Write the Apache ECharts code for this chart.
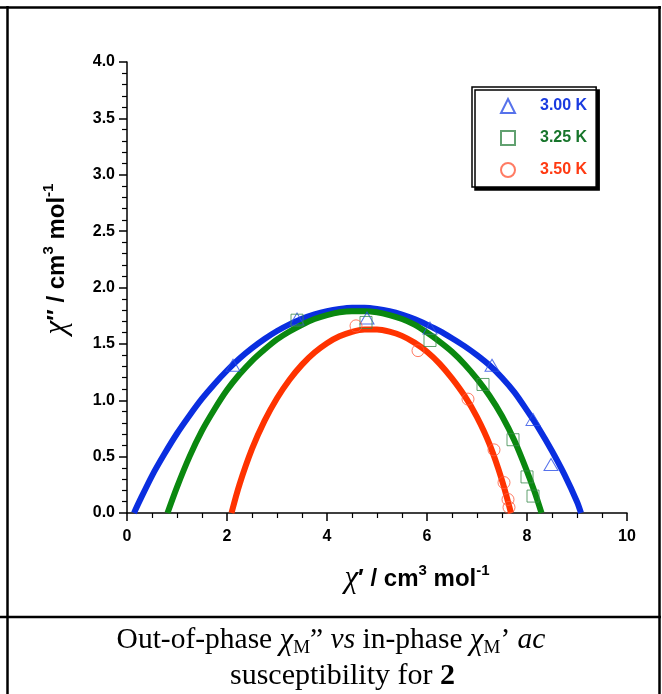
<!DOCTYPE html>
<html>
<head>
<meta charset="utf-8">
<script src="https://cdn.jsdelivr.net/npm/echarts@6/dist/echarts.min.js"></script>
<style>
html,body{margin:0;padding:0;background:#fff;}
#chart{width:662px;height:694px;}
</style>
</head>
<body>
<div id="chart"></div>
<script>
// ---- data ----
const seriesNames = ['3.00 K', '3.25 K', '3.50 K'];

// measured points
const blueX  = [2.12, 3.40, 4.80, 6.06, 7.30, 8.12, 8.48];
const blueY  = [1.31, 1.72, 1.73, 1.64, 1.31, 0.83, 0.43];
const greenX = [3.40, 4.78, 6.06, 7.12, 7.72, 8.00, 8.12];
const greenY = [1.71, 1.69, 1.53, 1.14, 0.65, 0.32, 0.15];
const redX   = [4.58, 5.82, 6.82, 7.34, 7.54, 7.62, 7.64];
const redY   = [1.66, 1.44, 1.01, 0.56, 0.27, 0.12, 0.05];

// fitted curves
const blueFitX  = [0.14, 0.25, 0.50, 0.75, 1.00, 1.25, 1.50, 1.75, 2.00, 2.25, 2.50, 2.75, 3.00, 3.25, 3.50, 3.75, 4.00, 4.25, 4.50, 4.75,
                   5.00, 5.25, 5.50, 5.75, 6.00, 6.25, 6.50, 6.75, 7.00, 7.25, 7.50, 7.75, 8.00, 8.25, 8.50, 8.75, 9.00, 9.08];
const blueFitY  = [0.00, 0.105, 0.33, 0.525, 0.705, 0.865, 1.014, 1.145, 1.264, 1.37, 1.462, 1.543, 1.614, 1.673, 1.723, 1.762, 1.791, 1.81, 1.82, 1.82,
                   1.81, 1.79, 1.76, 1.72, 1.67, 1.615, 1.55, 1.48, 1.40, 1.31, 1.20, 1.07, 0.91, 0.74, 0.55, 0.34, 0.10, 0.00];
const greenFitX = [0.81, 1.00, 1.25, 1.50, 1.75, 2.00, 2.25, 2.50, 2.75, 3.00, 3.25, 3.50, 3.75, 4.00, 4.25, 4.50, 4.75,
                   5.00, 5.25, 5.50, 5.75, 6.00, 6.25, 6.50, 6.75, 7.00, 7.25, 7.50, 7.75, 8.00, 8.15, 8.29];
const greenFitY = [0.00, 0.23, 0.50, 0.73, 0.92, 1.09, 1.23, 1.35, 1.45, 1.54, 1.61, 1.67, 1.72, 1.755, 1.78, 1.79, 1.79,
                   1.78, 1.755, 1.72, 1.67, 1.60, 1.52, 1.43, 1.32, 1.19, 1.04, 0.86, 0.64, 0.37, 0.19, 0.00];
const redFitX   = [2.09, 2.25, 2.50, 2.75, 3.00, 3.25, 3.50, 3.75, 4.00, 4.25, 4.50, 4.75, 5.00, 5.25, 5.50, 5.75,
                   6.00, 6.25, 6.50, 6.75, 7.00, 7.25, 7.50, 7.68];
const redFitY   = [0.00, 0.253, 0.568, 0.817, 1.018, 1.182, 1.316, 1.423, 1.506, 1.567, 1.607, 1.627, 1.628, 1.609, 1.571, 1.511,
                   1.43, 1.325, 1.194, 1.04, 0.85, 0.61, 0.29, 0.00];

// axis ticks
const xMin = 0, xMax = 10, xStep = 2;
const yMin = 0, yMax = 4, yStep = 0.5;

// ---- styles ----
const lineColors   = ['#0a2ee0', '#0a880f', '#ff3300'];
const markerColors = ['#2c4fe6', '#3a8a4c', '#ff5a3c'];
const legendColors = ['#1a3be0', '#17752b', '#ff3a12'];
const symbols = ['triangle', 'rect', 'circle'];
const symbolSizes = [[14, 12], 12, 12];

const zip = (xs, ys) => xs.map((x, i) => [x, ys[i]]);
const fits = [zip(blueFitX, blueFitY), zip(greenFitX, greenFitY), zip(redFitX, redFitY)];
const pts  = [zip(blueX, blueY), zip(greenX, greenY), zip(redX, redY)];

const series = [];
fits.forEach((d, i) => {
  series.push({
    name: seriesNames[i] + ' fit', type: 'line', data: d, smooth: 0.3,
    showSymbol: false, symbol: 'none', silent: true, z: 2,
    lineStyle: { color: lineColors[i], width: 6, cap: 'butt' }
  });
});
pts.forEach((d, i) => {
  series.push({
    name: seriesNames[i], type: 'scatter', data: d, z: 3,
    symbol: symbols[i], symbolSize: symbolSizes[i],
    itemStyle: { color: 'rgba(255,255,255,0)', borderColor: markerColors[i], borderWidth: 1 }
  });
});

const sans = 'Liberation Sans, Arial, sans-serif';
const serif = 'Liberation Serif, Times New Roman, serif';
const nameRich = {
  chi: { fontFamily: serif, fontStyle: 'italic', fontSize: 31, lineHeight: 32, color: '#000' },
  b:   { fontFamily: sans, fontWeight: 'bold', fontSize: 24, lineHeight: 32, color: '#000' },
  sup: { fontFamily: sans, fontWeight: 'bold', fontSize: 15, lineHeight: 15, verticalAlign: 'top', color: '#000' }
};

const chart = echarts.init(document.getElementById('chart'), null, { renderer: 'canvas' });
chart.setOption({
  backgroundColor: '#fff',
  animation: false,
  grid: { left: 127, top: 62, right: 35, bottom: 181, containLabel: false },
  xAxis: {
    type: 'value', min: xMin, max: xMax, interval: xStep,
    axisLine: { onZero: false, lineStyle: { color: '#000', width: 1.5 } },
    axisTick: { length: 8, lineStyle: { color: '#000', width: 1.5 } },
    minorTick: { show: true, splitNumber: 4, length: 5, lineStyle: { color: '#000', width: 1.2 } },
    splitLine: { show: false },
    axisLabel: { margin: 16, fontFamily: sans, fontWeight: 'bold', fontSize: 16, color: '#000' },
    name: '{chi|χ}{b|′ / cm}{sup|3}{b| mol}{sup|-1}',
    nameLocation: 'middle', nameGap: 50,
    nameTextStyle: { rich: nameRich, padding: [0, 0, 0, 80] }
  },
  yAxis: {
    type: 'value', min: yMin, max: yMax, interval: yStep,
    axisLine: { onZero: false, lineStyle: { color: '#000', width: 1.5 } },
    axisTick: { length: 8, lineStyle: { color: '#000', width: 1.5 } },
    minorTick: { show: true, splitNumber: 5, length: 5, lineStyle: { color: '#000', width: 1.2 } },
    splitLine: { show: false },
    axisLabel: { margin: 12, fontFamily: sans, fontWeight: 'bold', fontSize: 16, color: '#000',
      formatter: v => v.toFixed(1) },
    name: '{chi|χ}{b|″ / cm}{sup|3}{b| mol}{sup|-1}',
    nameLocation: 'middle', nameGap: 54, nameRotate: 90,
    nameTextStyle: { rich: nameRich, padding: [0, 0, 0, 57] }
  },
  legend: {
    left: 472, top: 87, orient: 'vertical', align: 'left',
    selectedMode: false,
    padding: [10, 9, 8, 28],
    itemWidth: 14, itemHeight: 14, itemGap: 14,
    backgroundColor: '#fff', borderColor: '#000', borderWidth: 1.5, borderRadius: 0,
    shadowColor: '#000', shadowBlur: 0, shadowOffsetX: 3, shadowOffsetY: 3,
    textStyle: { fontFamily: sans, fontWeight: 'bold', fontSize: 16, lineHeight: 18, padding: [0, 0, 0, 20] },
    data: seriesNames.map((n, i) => ({ name: n, textStyle: { color: legendColors[i] } }))
  },
  graphic: [
    { type: 'line', shape: { x1: 0, y1: 7.5, x2: 661, y2: 7.5 }, style: { stroke: '#000', lineWidth: 2.5 } },
    { type: 'line', shape: { x1: 7.5, y1: 6, x2: 7.5, y2: 694 }, style: { stroke: '#000', lineWidth: 2.5 } },
    { type: 'line', shape: { x1: 659.5, y1: 6, x2: 659.5, y2: 694 }, style: { stroke: '#000', lineWidth: 2.5 } },
    { type: 'line', shape: { x1: 0, y1: 617, x2: 661, y2: 617 }, style: { stroke: '#000', lineWidth: 2.5 } },
    { type: 'text', left: 'center', top: 625,
      style: {
        text: '{n|Out-of-phase }{chi|χ}{sub|M}{n|” }{i|vs}{n| in-phase }{chi|χ}{sub|M}{n|’ }{i|ac}',
        rich: {
          n:   { fontFamily: serif, fontSize: 29.5, lineHeight: 34, fill: '#000' },
          i:   { fontFamily: serif, fontStyle: 'italic', fontSize: 29.5, lineHeight: 34, fill: '#000' },
          chi: { fontFamily: serif, fontStyle: 'italic', fontSize: 31, lineHeight: 34, fill: '#000' },
          sub: { fontFamily: serif, fontSize: 19, lineHeight: 22, verticalAlign: 'bottom', fill: '#000' }
        }
      }
    },
    { type: 'text', left: 230, top: 661,
      style: {
        text: '{n|susceptibility for }{bd|2}',
        rich: {
          n:  { fontFamily: serif, fontSize: 30, lineHeight: 34, fill: '#000' },
          bd: { fontFamily: serif, fontWeight: 'bold', fontSize: 30, lineHeight: 34, fill: '#000' }
        }
      }
    }
  ],
  series: series
});
</script>
</body>
</html>
